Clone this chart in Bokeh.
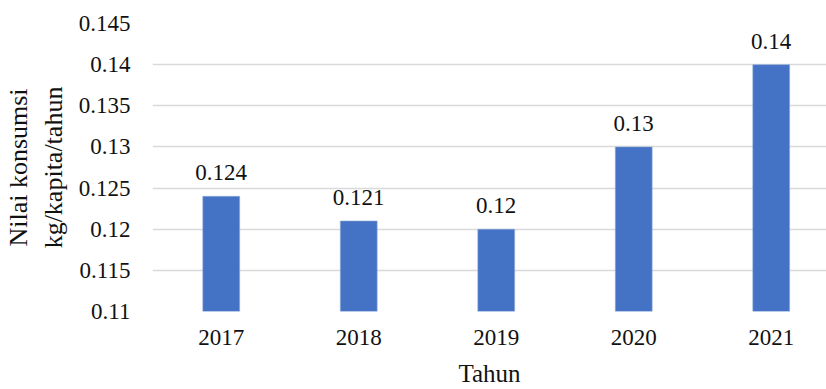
from bokeh.plotting import figure
from bokeh.models import ColumnDataSource, Range1d, FixedTicker, LabelSet
from bokeh.embed import file_html
from bokeh.resources import INLINE

years = ["2017", "2018", "2019", "2020", "2021"]
values = [0.124, 0.121, 0.12, 0.13, 0.14]
value_labels = ["0.124", "0.121", "0.12", "0.13", "0.14"]
y_ticks = [0.11, 0.115, 0.12, 0.125, 0.13, 0.135, 0.14, 0.145]
y_tick_labels = ["0.11", "0.115", "0.12", "0.125", "0.13", "0.135", "0.14", "0.145"]

FONT = "Liberation Serif"
BAR = "#4472C4"

xs = list(range(len(years)))
src = ColumnDataSource(dict(x=xs, top=values, lab=value_labels))

p = figure(width=826, height=389, output_backend="svg", toolbar_location=None,
           x_range=Range1d(-0.5, 4.402), y_range=Range1d(0.11, 0.145),
           min_border_left=150, min_border_right=0, min_border_top=23, min_border_bottom=75)
p.outline_line_color = None
p.background_fill_color = "white"
p.border_fill_color = "white"

p.vbar(x="x", top="top", bottom=0.11, width=0.268, source=src,
       fill_color=BAR, line_color="#8EA9DB", line_width=0.6)

labels = LabelSet(x="x", y="top", text="lab", source=src, text_align="center",
                  text_baseline="alphabetic", y_offset=16, text_font=FONT,
                  text_font_size="23px", text_color="#111111")
p.add_layout(labels)

# x axis
p.xaxis.ticker = FixedTicker(ticks=xs)
p.xaxis.major_label_overrides = {i: y for i, y in zip(xs, years)}
p.xaxis.axis_line_color = None
p.xaxis.major_tick_line_color = None
p.xaxis.minor_tick_line_color = None
p.xaxis.major_tick_out = 0
p.xaxis.major_label_standoff = 18
p.xaxis.major_label_text_font = FONT
p.xaxis.major_label_text_font_size = "23px"
p.xaxis.major_label_text_color = "#111111"
p.xaxis.axis_label = "Tahun"
p.xaxis.axis_label_text_font = FONT
p.xaxis.axis_label_text_font_size = "25px"
p.xaxis.axis_label_text_font_style = "normal"
p.xaxis.axis_label_text_color = "#111111"
p.xaxis.axis_label_standoff = 12

# y axis
p.yaxis.ticker = FixedTicker(ticks=y_ticks)
p.yaxis.major_label_overrides = {t: l for t, l in zip(y_ticks, y_tick_labels)}
p.yaxis.axis_line_color = None
p.yaxis.major_tick_line_color = None
p.yaxis.minor_tick_line_color = None
p.yaxis.major_tick_out = 0
p.yaxis.major_label_standoff = 22
p.yaxis.major_label_text_font = FONT
p.yaxis.major_label_text_font_size = "23px"
p.yaxis.major_label_text_color = "#111111"
p.yaxis.axis_label = "Nilai konsumsi\nkg/kapita/tahun"
p.yaxis.axis_label_text_font = FONT
p.yaxis.axis_label_text_font_size = "26px"
p.yaxis.axis_label_text_font_style = "normal"
p.yaxis.axis_label_text_color = "#111111"
p.yaxis.axis_label_standoff = 8

p.xgrid.grid_line_color = None
p.ygrid.ticker = FixedTicker(ticks=y_ticks)
p.ygrid.grid_line_color = "#d9d9d9"
p.ygrid.grid_line_width = 1.5

open("out.html", "w").write(file_html(p, INLINE))
